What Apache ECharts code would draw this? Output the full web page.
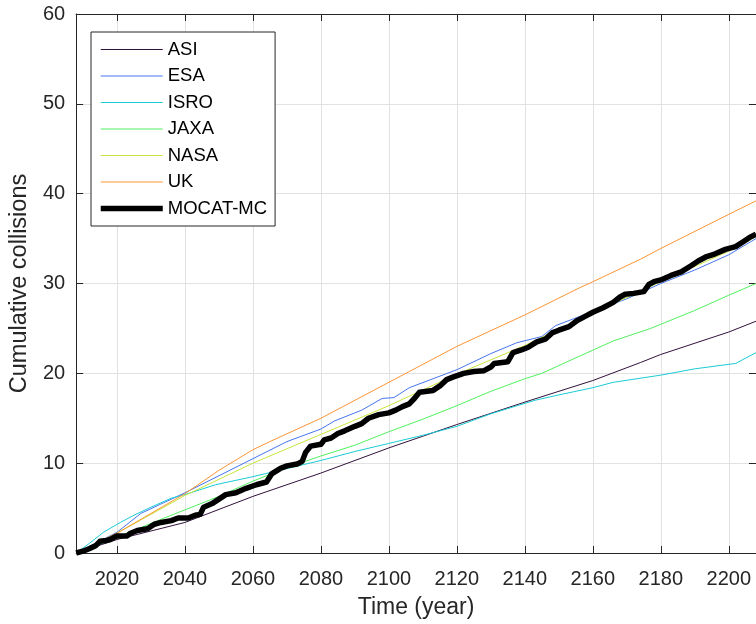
<!DOCTYPE html>
<html>
<head>
<meta charset="utf-8">
<script src="https://cdn.jsdelivr.net/npm/echarts@6/dist/echarts.min.js"></script>
<style>
html,body{margin:0;padding:0;background:#fff;}
#c{width:756px;height:624px;}
</style>
</head>
<body>
<div id="c"></div>
<script>
const xTicks = [2020, 2040, 2060, 2080, 2100, 2120, 2140, 2160, 2180, 2200];

const asiYears = [2008, 2020, 2040, 2060, 2080, 2100, 2110, 2120, 2140, 2160, 2174, 2180, 2200, 2208];
const asiVals  = [0, 1.5, 3.4, 6.3, 8.9, 11.7, 13.0, 14.3, 16.8, 19.2, 21.2, 22.1, 24.6, 25.8];

const esaYears = [2008, 2020, 2027, 2040, 2060, 2070, 2080, 2084, 2092, 2098, 2101.5, 2106, 2120, 2130, 2137.6, 2145, 2149, 2158, 2170, 2180, 2190, 2200, 2208];
const esaVals  = [0, 2.3, 4.4, 6.7, 10.5, 12.4, 13.8, 14.7, 15.9, 17.2, 17.3, 18.4, 20.4, 22.2, 23.4, 24.1, 25.3, 26.6, 28.3, 30.0, 31.5, 33.2, 35.0];

const isroYears = [2008, 2012, 2016, 2021, 2025, 2030, 2036, 2040, 2049, 2060, 2070, 2080, 2090, 2100, 2110, 2120, 2130, 2143, 2150, 2160, 2166, 2180, 2190, 2202, 2208];
const isroVals  = [0, 1.1, 2.3, 3.4, 4.2, 5.1, 6.1, 6.5, 7.6, 8.5, 9.4, 10.3, 11.3, 12.2, 13.1, 14.1, 15.5, 17.0, 17.6, 18.4, 19.0, 19.8, 20.5, 21.1, 22.3];

const jaxaYears = [2008, 2020, 2030, 2040, 2050, 2060, 2070, 2080, 2090, 2100, 2110, 2120, 2130, 2140, 2145, 2156, 2166, 2177, 2190, 2200, 2208];
const jaxaVals  = [0, 1.7, 3.3, 4.8, 6.3, 8.0, 9.5, 10.8, 12.0, 13.5, 14.9, 16.4, 18.0, 19.4, 20.0, 21.9, 23.6, 25.0, 27.0, 28.7, 30.0];

const nasaYears = [2008, 2020, 2040, 2060, 2080, 2100, 2120, 2140, 2160, 2180, 2200, 2208];
const nasaVals  = [0, 2.2, 6.4, 10.0, 13.2, 16.4, 19.9, 23.1, 26.7, 30.2, 33.6, 35.2];

const ukYears = [2008, 2020, 2040, 2050, 2060, 2065, 2080, 2100, 2115, 2120, 2140, 2156, 2160, 2174, 2180, 2200, 2208];
const ukVals  = [0, 2.2, 6.6, 9.2, 11.5, 12.4, 15.0, 19.0, 22.0, 23.0, 26.5, 29.5, 30.2, 32.7, 33.9, 37.7, 39.2];

const mcYears = [2008, 2010, 2012, 2013.7, 2015, 2017, 2018, 2020, 2023, 2024, 2026, 2029, 2031, 2033, 2036, 2038, 2041, 2043, 2044.5, 2045.5, 2048, 2050, 2052, 2055, 2058, 2061, 2064, 2065.5, 2068, 2070, 2073, 2074.5, 2075.5, 2077, 2080, 2081, 2083, 2085, 2087, 2090, 2092, 2094, 2097, 2100, 2102, 2104, 2106, 2107.5, 2109, 2113, 2115, 2117, 2119, 2122, 2125, 2128, 2130, 2131, 2135, 2136.5, 2139, 2141, 2143.5, 2146, 2148, 2150, 2153, 2155.5, 2158, 2160, 2163, 2166, 2168, 2169.5, 2172, 2175, 2176.5, 2178, 2180, 2183, 2186, 2189, 2191, 2193.5, 2196, 2199, 2202, 2204, 2206, 2208];
const mcVals  = [0, 0.2, 0.5, 0.8, 1.3, 1.4, 1.5, 1.9, 1.9, 2.2, 2.5, 2.7, 3.2, 3.4, 3.6, 3.9, 3.9, 4.2, 4.3, 5.1, 5.5, 6.0, 6.5, 6.7, 7.2, 7.6, 7.9, 8.8, 9.4, 9.7, 9.9, 10.2, 11.2, 11.9, 12.1, 12.6, 12.8, 13.3, 13.6, 14.1, 14.4, 15.0, 15.4, 15.6, 15.9, 16.3, 16.6, 17.2, 17.9, 18.1, 18.6, 19.3, 19.6, 20.0, 20.2, 20.3, 20.7, 21.1, 21.3, 22.3, 22.6, 22.9, 23.5, 23.8, 24.5, 24.8, 25.2, 25.9, 26.4, 26.8, 27.3, 27.9, 28.5, 28.8, 28.9, 29.1, 29.9, 30.2, 30.4, 30.9, 31.3, 32.0, 32.5, 33.0, 33.3, 33.8, 34.1, 34.6, 35.1, 35.5];

const seriesDefs = [
  {name: 'ASI', years: asiYears, vals: asiVals, color: '#30123b', width: 1},
  {name: 'ESA', years: esaYears, vals: esaVals, color: '#4676ee', width: 1},
  {name: 'ISRO', years: isroYears, vals: isroVals, color: '#1bcbd6', width: 1},
  {name: 'JAXA', years: jaxaYears, vals: jaxaVals, color: '#52f060', width: 1},
  {name: 'NASA', years: nasaYears, vals: nasaVals, color: '#c6e63c', width: 1},
  {name: 'UK', years: ukYears, vals: ukVals, color: '#fc9535', width: 1},
  {name: 'MOCAT-MC', years: mcYears, vals: mcVals, color: '#000000', width: 5.5}
];

const FONT = 'Liberation Sans, Arial, Helvetica, sans-serif';
const AX = '#262626';
const GRIDC = '#e2e2e2';

const chart = echarts.init(document.getElementById('c'), null, {renderer: 'canvas'});
chart.setOption({
  animation: false,
  backgroundColor: '#ffffff',
  textStyle: {fontFamily: FONT},
  grid: {left: 74, top: 14, width: 683, height: 539, containLabel: false},
  legend: {
    orient: 'vertical',
    left: 91, top: 32,
    backgroundColor: '#ffffff',
    borderColor: AX, borderWidth: 1,
    padding: [8, 8, 8, 7],
    itemWidth: 62, itemHeight: 18, itemGap: 7.5,
    itemStyle: {opacity: 0},
    lineStyle: {width: 'inherit'},
    textStyle: {fontSize: 18.5, color: '#000', fontFamily: FONT, lineHeight: 18},
    data: seriesDefs.map(s => ({name: s.name, lineStyle: {width: s.width, color: s.color}}))
  },
  xAxis: [{
    type: 'value', min: 2008, max: 2208, position: 'bottom',
    name: 'Time (year)', nameLocation: 'middle', nameGap: 43,
    nameTextStyle: {fontSize: 23, color: AX, fontFamily: FONT},
    axisLine: {show: true, lineStyle: {color: AX, width: 1}},
    axisTick: {show: true, inside: true, length: 7, lineStyle: {color: AX}, customValues: xTicks},
    axisLabel: {fontSize: 20, color: AX, margin: 16, fontFamily: FONT, customValues: xTicks, formatter: v => String(v)},
    splitLine: {show: true, lineStyle: {color: GRIDC, width: 1}}
  }, {
    type: 'value', min: 2008, max: 2208, position: 'top',
    axisLine: {show: true, onZero: false, lineStyle: {color: AX, width: 1}},
    axisTick: {show: true, inside: true, length: 7, lineStyle: {color: AX}, customValues: xTicks},
    axisLabel: {show: false, customValues: xTicks},
    splitLine: {show: false}
  }],
  yAxis: [{
    type: 'value', min: 0, max: 60, interval: 10, position: 'left',
    name: 'Cumulative collisions', nameLocation: 'middle', nameGap: 41,
    nameTextStyle: {fontSize: 23.5, color: AX, fontFamily: FONT},
    axisLine: {show: true, onZero: false, lineStyle: {color: AX, width: 1}},
    axisTick: {show: true, inside: true, length: 7, lineStyle: {color: AX}},
    axisLabel: {fontSize: 20, color: AX, margin: 11, fontFamily: FONT},
    splitLine: {show: true, lineStyle: {color: GRIDC, width: 1}}
  }, {
    type: 'value', min: 0, max: 60, interval: 10, position: 'right',
    axisLine: {show: true, onZero: false, lineStyle: {color: AX, width: 1}},
    axisTick: {show: true, inside: true, length: 7, lineStyle: {color: AX}},
    axisLabel: {show: false},
    splitLine: {show: false}
  }],
  series: seriesDefs.map(s => ({
    name: s.name,
    type: 'line',
    xAxisIndex: 0, yAxisIndex: 0,
    symbol: 'none',
    clip: true,
    lineStyle: {color: s.color, width: s.width, join: 'round'},
    itemStyle: {color: s.color},
    emphasis: {disabled: true},
    data: s.years.map((y, i) => [y, s.vals[i]])
  }))
});
</script>
</body>
</html>
